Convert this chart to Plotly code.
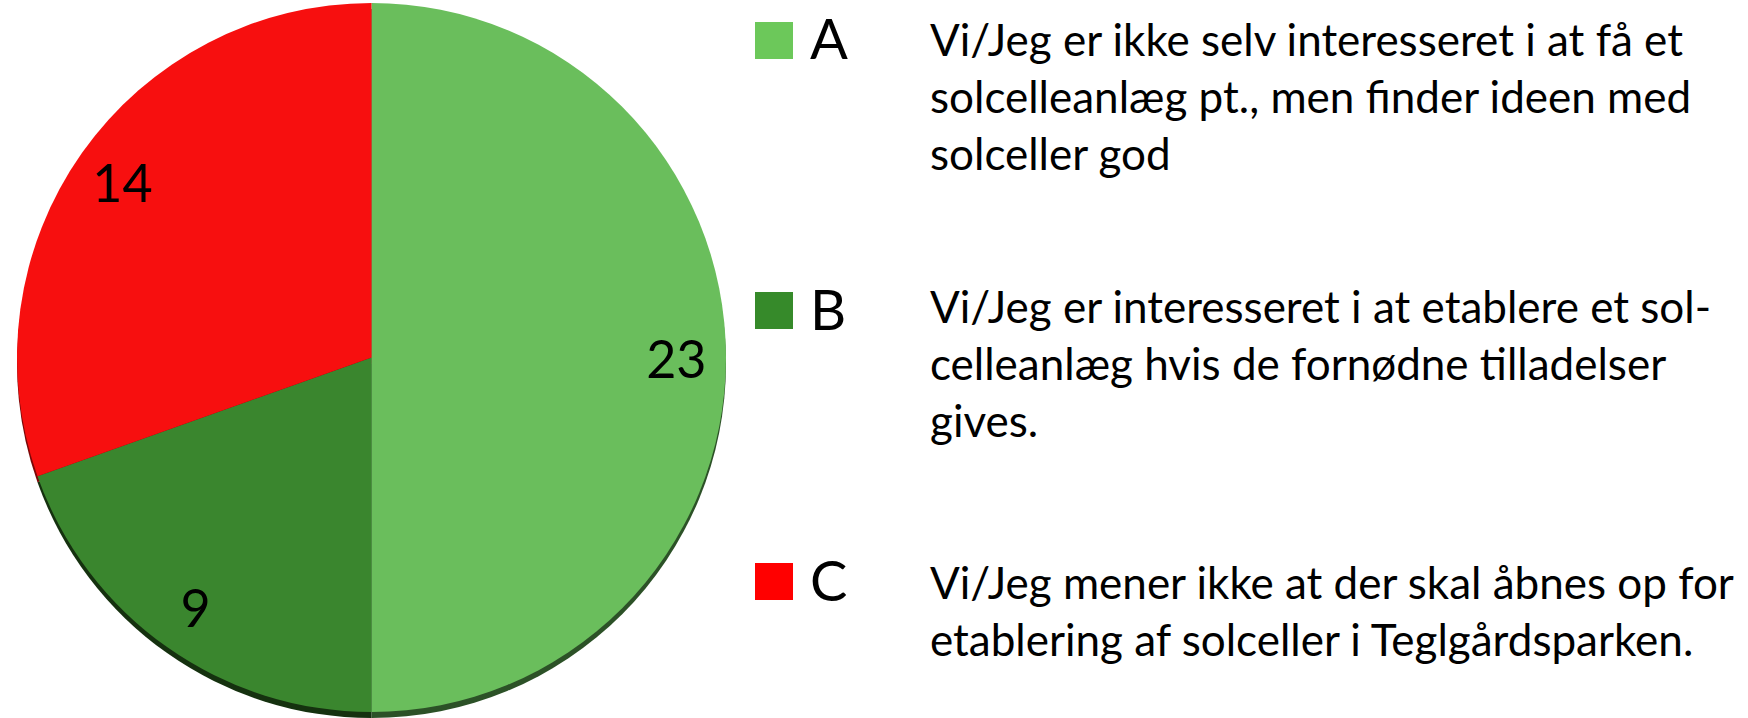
import plotly.graph_objects as go

W, H = 1748, 718

categories = ["A", "B", "C"]
values = [23, 9, 14]
descriptions = [
    "Vi/Jeg er ikke selv interesseret i at få et<br>solcelleanlæg pt., men finder ideen med<br>solceller god",
    "Vi/Jeg er interesseret i at etablere et sol-<br>celleanlæg hvis de fornødne tilladelser<br>gives.",
    "Vi/Jeg mener ikke at der skal åbnes op for<br>etablering af solceller i Teglgårdsparken.",
]

slice_colors = ["#6ABE5C", "#3A862E", "#F70F0F"]
rim_colors = ["#2C5127", "#15310F", "#7A0808"]
legend_colors = ["#6CC85A", "#368A2A", "#FF0000"]

FONT = "Lato, sans-serif"

px_x = lambda p: p / W
px_y = lambda p: 1 - p / H  # from top

dom_x = [px_x(14), px_x(729)]
main_dom_y = [px_y(712), px_y(3)]
rim_dom_y = [px_y(718), px_y(9)]

fig = go.Figure()

# 3D rim (shadow)
fig.add_trace(go.Pie(
    labels=categories, values=values, sort=False, direction="clockwise", rotation=0,
    marker=dict(colors=rim_colors, line=dict(width=0)),
    textinfo="none", hoverinfo="skip", showlegend=False,
    domain=dict(x=dom_x, y=rim_dom_y),
))
# main pie
fig.add_trace(go.Pie(
    labels=categories, values=values, sort=False, direction="clockwise", rotation=0,
    marker=dict(colors=slice_colors, line=dict(width=0)),
    textinfo="none", showlegend=False,
    domain=dict(x=dom_x, y=main_dom_y),
))
# value labels in an invisible ring near the edge
fig.add_trace(go.Pie(
    labels=categories, values=values, sort=False, direction="clockwise", rotation=0,
    hole=0.72,
    marker=dict(colors=["rgba(0,0,0,0)"] * 3, line=dict(width=0)),
    textinfo="value", textposition="inside", insidetextorientation="horizontal",
    textfont=dict(family=FONT, size=52, color="black"),
    hoverinfo="skip", showlegend=False,
    domain=dict(x=dom_x, y=main_dom_y),
))

shapes = []
annotations = []
sq_tops = [22, 292, 563]
letter_mid = [38, 308, 579]
desc_mid = [96, 363, 610]
for i, cat in enumerate(categories):
    top = sq_tops[i]
    shapes.append(dict(type="rect", xref="paper", yref="paper",
                       x0=px_x(755), x1=px_x(793), y0=px_y(top + 37), y1=px_y(top),
                       fillcolor=legend_colors[i], line=dict(width=0)))
    annotations.append(dict(xref="paper", yref="paper", x=px_x(808), y=px_y(letter_mid[i]),
                            xanchor="left", yanchor="middle", showarrow=False,
                            text=cat, font=dict(family=FONT, size=56, color="black")))
    annotations.append(dict(xref="paper", yref="paper", x=px_x(928), y=px_y(desc_mid[i]),
                            xanchor="left", yanchor="middle", showarrow=False, align="left",
                            text=descriptions[i], font=dict(family=FONT, size=44, color="black")))

fig.update_layout(
    width=W, height=H,
    margin=dict(l=0, r=0, t=0, b=0),
    paper_bgcolor="white", plot_bgcolor="white",
    shapes=shapes, annotations=annotations,
)

fig.write_html("out.html", config={"displayModeBar": False},
               post_script="document.body.style.margin='0';")
